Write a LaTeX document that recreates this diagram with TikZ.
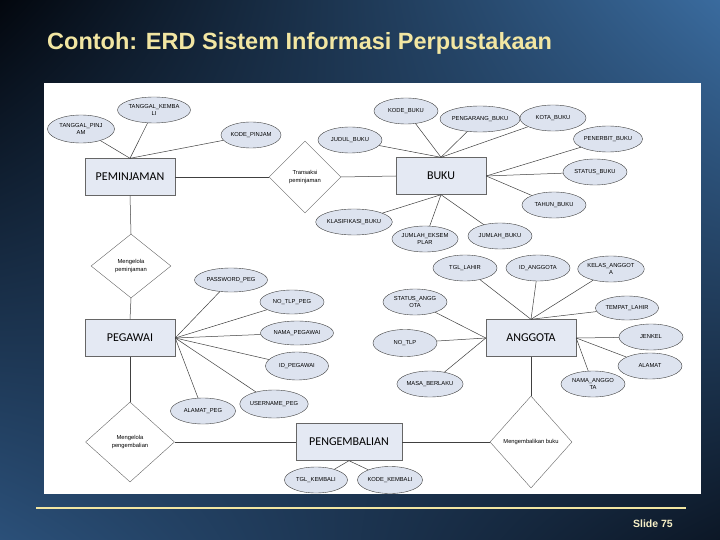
\documentclass[tikz,border=0pt]{standalone}
\usepackage{fontspec}
\setmainfont{Liberation Sans}
\newfontfamily\carlito{Carlito}
\usetikzlibrary{shapes.geometric, shadings}
\definecolor{titleyellow}{HTML}{F2E6A2}
\definecolor{entfill}{HTML}{E4E9F3}
\definecolor{attfill}{HTML}{DDE3EF}
\definecolor{bgtl}{HTML}{03070E}
\definecolor{bgtr}{HTML}{3A6B9E}
\definecolor{bgbl}{HTML}{2B5079}
\definecolor{bgbr}{HTML}{0C1726}

\begin{document}
\begin{tikzpicture}[
    x=1pt, y=-1pt,
    entity/.style = {draw=black!60, fill=entfill, rectangle, minimum width=90pt,
                     minimum height=37pt, inner sep=0pt,
                     font=\carlito\fontsize{12}{12}\selectfont},
    attr/.style = {draw=black!75, fill=attfill, ellipse, minimum width=64pt,
                   minimum height=26pt, inner sep=0pt, align=center,
                   font=\fontsize{5.8}{6.8}\selectfont},
    rel/.style = {draw=black!60, fill=white, diamond, inner sep=0pt, align=center,
                  font=\fontsize{5.8}{7.2}\selectfont},
    conn/.style = {draw=black!75, line width=0.5pt},
]
\useasboundingbox (0,0) rectangle (720,540);
% background and panel
\shade[upper left=bgtl, upper right=bgtr, lower left=bgbl, lower right=bgbr]
    (0,0) rectangle (720,540);
\fill[white] (44,83) rectangle (701,494);
\draw[titleyellow, line width=1.8pt] (36,508) -- (686,508);
\node[anchor=base west, text=titleyellow, inner sep=0pt,
      font=\bfseries\fontsize{23.5}{23.5}\selectfont] (title) at (47,50)
      {Contoh: ERD Sistem Informasi Perpustakaan};
\node[anchor=base east, text=titleyellow!60!white, inner sep=0pt,
      font=\bfseries\fontsize{10.5}{10.5}\selectfont] (slide) at (673,527) {Slide 75};

% entities
\node[entity] (pinjam) at (130,177) {PEMINJAMAN};
\node[entity] (buku) at (441,176) {BUKU};
\node[entity] (pegawai) at (130,338) {PEGAWAI};
\node[entity] (anggota) at (531,338) {ANGGOTA};
\node[entity, minimum width=106pt] (kembali) at (349,442) {PENGEMBALIAN};

% relationships
\node[rel, minimum width=72pt, minimum height=72pt] (transaksi) at (305,177)
     {Transaksi\\peminjaman};
\node[rel, minimum width=80pt, minimum height=64pt] (kelolapinjam) at (131,266)
     {Mengelola\\peminjaman};
\node[rel, minimum width=89pt, minimum height=80pt] (kelolakembali) at (130,442)
     {Mengelola\\pengembalian};
\node[rel, minimum width=82pt, minimum height=92pt] (balikbuku) at (531,442)
     {Mengembalikan buku};

% atribut PEMINJAMAN
\node[attr, minimum width=67pt, minimum height=28pt] (tglpinjam) at (81,129) {TANGGAL\_PINJ\\AM};
\node[attr, minimum width=73pt] (tglkembali) at (154,110) {TANGGAL\_KEMBA\\LI};
\node[attr, minimum width=60pt] (kodepinjam) at (251,135) {KODE\_PINJAM};

% atribut BUKU
\node[attr] (kodebuku) at (406,111) {KODE\_BUKU};
\node[attr, minimum width=80pt] (pengarang) at (480,119) {PENGARANG\_BUKU};
\node[attr, minimum width=66pt] (kota) at (553,118) {KOTA\_BUKU};
\node[attr] (judul) at (350,140) {JUDUL\_BUKU};
\node[attr, minimum width=69pt] (penerbit) at (608,139) {PENERBIT\_BUKU};
\node[attr] (statusbuku) at (595,172) {STATUS\_BUKU};
\node[attr] (tahun) at (554,205) {TAHUN\_BUKU};
\node[attr, minimum width=72pt] (klasifikasi) at (354,222) {KLASIFIKASI\_BUKU};
\node[attr] (eksemplar) at (425,239) {JUMLAH\_EKSEM\\PLAR};
\node[attr] (jumlahbuku) at (500,236) {JUMLAH\_BUKU};

% atribut ANGGOTA
\node[attr] (tgllahir) at (465,268) {TGL\_LAHIR};
\node[attr] (idanggota) at (538,268) {ID\_ANGGOTA};
\node[attr] (kelas) at (611,269) {KELAS\_ANGGOT\\A};
\node[attr, minimum width=63pt, minimum height=24pt] (tempat) at (627,308) {TEMPAT\_LAHIR};
\node[attr] (jenkel) at (651,337) {JENKEL};
\node[attr] (alamat) at (650,366) {ALAMAT};
\node[attr] (namaanggota) at (593,384) {NAMA\_ANGGO\\TA};
\node[attr] (statusanggota) at (415,302) {STATUS\_ANGG\\OTA};
\node[attr, minimum height=27pt] (notlp) at (405,343) {NO\_TLP};
\node[attr] (masa) at (430,384) {MASA\_BERLAKU};

% atribut PEGAWAI
\node[attr, minimum width=73pt, minimum height=24pt] (password) at (231,280) {PASSWORD\_PEG};
\node[attr, minimum height=24pt] (notlppeg) at (292,302) {NO\_TLP\_PEG};
\node[attr, minimum width=73pt, minimum height=24pt] (namapeg) at (297,333) {NAMA\_PEGAWAI};
\node[attr, minimum width=63pt, minimum height=28pt] (idpeg) at (297,366) {ID\_PEGAWAI};
\node[attr, minimum width=68pt, minimum height=28pt] (username) at (274,404) {USERNAME\_PEG};
\node[attr, minimum width=65pt] (alamatpeg) at (203,411) {ALAMAT\_PEG};

% atribut PENGEMBALIAN
\node[attr, minimum width=63pt] (tglkbl) at (316,480) {TGL\_KEMBALI};
\node[attr, minimum width=65pt, minimum height=27pt] (kodekbl) at (390,480) {KODE\_KEMBALI};

% relasi
\draw[conn] (pinjam.east) -- (transaksi.west);
\draw[conn] (transaksi.east) -- (buku.west);
\draw[conn] (pinjam.south) -- (kelolapinjam.north);
\draw[conn] (kelolapinjam.south) -- (pegawai.north);
\draw[conn] (pegawai.south) -- (kelolakembali.north);
\draw[conn] (kelolakembali.east) -- (kembali.west);
\draw[conn] (kembali.east) -- (balikbuku.west);
\draw[conn] (balikbuku.north) -- (anggota.south);

% garis atribut
\foreach \a in {tglpinjam, tglkembali, kodepinjam}
    \draw[conn] (pinjam.north) -- (\a);
\foreach \a in {kodebuku, pengarang, kota, judul}
    \draw[conn] (buku.north) -- (\a);
\foreach \a in {penerbit, statusbuku, tahun}
    \draw[conn] (buku.east) -- (\a);
\foreach \a in {klasifikasi, eksemplar, jumlahbuku}
    \draw[conn] (buku.south) -- (\a);
\foreach \a in {tgllahir, idanggota, kelas, tempat}
    \draw[conn] (anggota.north) -- (\a);
\foreach \a in {jenkel, alamat, namaanggota}
    \draw[conn] (anggota.east) -- (\a);
\foreach \a in {statusanggota, notlp, masa}
    \draw[conn] (anggota.west) -- (\a);
\foreach \a in {password, notlppeg, namapeg, idpeg, username, alamatpeg}
    \draw[conn] (pegawai.east) -- (\a);
\foreach \a in {tglkbl, kodekbl}
    \draw[conn] (kembali.south) -- (\a);
\end{tikzpicture}
\end{document}
